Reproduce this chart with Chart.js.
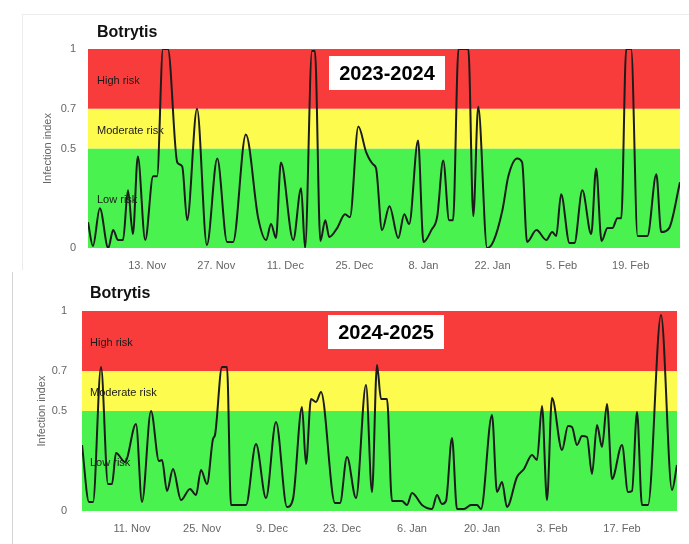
<!DOCTYPE html>
<html>
<head>
<meta charset="utf-8">
<script src="https://cdn.jsdelivr.net/npm/chart.js@4.4.1/dist/chart.umd.min.js"></script>
<style>
  html, body { margin: 0; padding: 0; background: #fff; }
  #page { position: relative; width: 689px; height: 544px; overflow: hidden; }
  canvas { position: absolute; left: 0; }
  #c1 { top: 0; }
  #c2 { top: 272px; }
  .edge { position: absolute; background: #ececec; }
</style>
</head>
<body>
<div id="page">
  <div class="edge" style="left:22px;top:14px;width:667px;height:1px;"></div>
  <div class="edge" style="left:22px;top:14px;width:1px;height:256px;"></div>
  <div class="edge" style="left:12px;top:272px;width:1px;height:272px;background:#d4d4d4;"></div>
  <canvas id="c1" width="689" height="272"></canvas>
  <canvas id="c2" width="689" height="272"></canvas>
</div>
<script>
// days counted from 1 Nov
const days2324 = [0, 1.0, 2.4, 4.1, 5.1, 6.1, 7.1, 8.1, 9.1, 10.1, 11.6, 13.2, 14.0, 15.2, 16.2, 18.1, 19.1, 20.1, 22.1, 24.1,
  26.2, 28.2, 29.4, 32.0, 34.5, 36.1, 37.1, 38.1, 39.1, 41.6, 43.2, 44.0, 45.4, 46.0, 47.1, 48.1, 48.9, 50.5, 52.1, 53.1,
  54.8, 56.4, 57.8, 58.4, 59.6, 61.1, 62.9, 64.1, 65.1, 66.9, 68.0, 69.6, 70.8, 72.0, 73.2, 74.0, 75.1, 77.1, 78.1, 79.1,
  80.9, 82.2, 84.0, 85.2, 87.0, 88.0, 89.0, 90.9, 92.9, 94.1, 94.9, 95.9, 97.6, 98.6, 100.2, 102.0, 103.0, 104.1, 105.3, 106.3,
  107.3, 108.1, 109.1, 110.1, 111.4, 113.4, 115.2, 116.2, 117.8, 120.0];
const index2324 = [0.13, 0.01, 0.20, 0.0, 0.09, 0.04, 0.04, 0.29, 0.07, 0.46, 0.04, 0.36, 0.36, 1.0, 1.0, 0.43, 0.41, 0.14, 0.70, 0.015,
  0.45, 0.03, 0.03, 0.57, 0.15, 0.04, 0.12, 0.05, 0.43, 0.04, 0.30, 0.0, 0.99, 0.99, 0.035, 0.14, 0.055, 0.10, 0.17, 0.155,
  0.61, 0.48, 0.42, 0.40, 0.09, 0.21, 0.05, 0.17, 0.12, 0.54, 0.03, 0.09, 0.16, 0.44, 0.14, 0.14, 1.0, 1.0, 0.16, 0.71,
  0.0, 0.035, 0.19, 0.36, 0.45, 0.43, 0.03, 0.09, 0.04, 0.08, 0.06, 0.27, 0.025, 0.025, 0.29, 0.07, 0.40, 0.035, 0.10, 0.10,
  0.15, 0.15, 1.0, 1.0, 0.06, 0.06, 0.37, 0.08, 0.10, 0.33];

const days2425 = [0, 1.4, 2.2, 3.8, 5.2, 6.0, 6.8, 8.6, 10.8, 12.0, 13.8, 15.4, 16.0, 17.0, 18.2, 19.8, 21.6, 22.8, 23.8, 25.0,
  26.2, 26.6, 28.0, 29.0, 29.8, 32.8, 34.8, 36.8, 38.8, 41.0, 42.2, 44.0, 44.8, 45.8, 46.8, 47.8, 50.6, 51.6, 53.0, 54.8,
  56.8, 58.0, 59.0, 59.8, 61.0, 62.0, 64.0, 65.0, 66.0, 68.0, 70.0, 71.0, 72.0, 72.8, 74.0, 75.0, 76.4, 77.8, 79.0, 79.8,
  82.0, 83.0, 84.0, 85.0, 87.0, 88.4, 90.0, 91.0, 92.0, 93.0, 94.0, 96.0, 97.2, 98.0, 99.0, 100.0, 101.0, 102.0, 103.0, 104.0,
  105.0, 106.0, 108.0, 109.2, 110.0, 111.0, 112.0, 113.2, 115.8, 118.0, 119.0];
const index2425 = [0.33, 0.045, 0.045, 0.72, 0.135, 0.135, 0.29, 0.245, 0.435, 0.045, 0.50, 0.25, 0.255, 0.10, 0.21, 0.055, 0.11, 0.08, 0.205, 0.135,
  0.36, 0.38, 0.72, 0.72, 0.03, 0.03, 0.335, 0.065, 0.445, 0.02, 0.06, 0.52, 0.235, 0.56, 0.545, 0.595, 0.04, 0.04, 0.27, 0.065,
  0.63, 0.095, 0.73, 0.56, 0.56, 0.05, 0.05, 0.03, 0.09, 0.03, 0.01, 0.08, 0.035, 0.05, 0.365, 0.01, 0.01, 0.03, 0.03, 0.01,
  0.48, 0.095, 0.145, 0.02, 0.17, 0.21, 0.28, 0.255, 0.525, 0.055, 0.565, 0.305, 0.425, 0.42, 0.33, 0.375, 0.37, 0.185, 0.43, 0.32,
  0.535, 0.16, 0.33, 0.095, 0.10, 0.495, 0.03, 0.03, 0.98, 0.105, 0.23];

const tickDays2324 = [12, 26, 40, 54, 68, 82, 96, 110];
const tickLabels2324 = ['13. Nov', '27. Nov', '11. Dec', '25. Dec', '8. Jan', '22. Jan', '5. Feb', '19. Feb'];
const tickDays2425 = [10, 24, 38, 52, 66, 80, 94, 108];
const tickLabels2425 = ['11. Nov', '25. Nov', '9. Dec', '23. Dec', '6. Jan', '20. Jan', '3. Feb', '17. Feb'];

const yTicks = [0, 0.5, 0.7, 1];
const bandEdges = [0, 0.5, 0.7, 1];
const bandNames = ['Low risk', 'Moderate risk', 'High risk'];
const bandColors = ['#4af250', '#fcfb4e', '#f83b3b'];

const FONT = '"Liberation Sans", Arial, sans-serif';

const riskBands = {
  id: 'riskBands',
  beforeDatasetsDraw(chart, args, opts) {
    const { ctx, chartArea: a, scales: { y } } = chart;
    ctx.save();
    for (let i = 0; i < bandNames.length; i++) {
      const top = y.getPixelForValue(bandEdges[i + 1]);
      const bot = y.getPixelForValue(bandEdges[i]);
      ctx.fillStyle = bandColors[i];
      ctx.fillRect(a.left, top, a.right - a.left, bot - top);
      ctx.fillStyle = '#1a1a1a';
      ctx.font = '11px ' + FONT;
      ctx.textBaseline = 'middle';
      ctx.fillText(bandNames[i], a.left + opts.labelDx, (top + bot) / 2 + 2);
    }
    ctx.fillStyle = '#111';
    ctx.font = 'bold 16px ' + FONT;
    ctx.fillText('Botrytis', a.left + opts.titleDx, a.top - opts.titleDy);
    ctx.restore();
  },
  afterDraw(chart, args, opts) {
    const { ctx, chartArea: a } = chart;
    const bx = a.left + opts.boxDx, by = a.top + opts.boxDy;
    ctx.save();
    ctx.fillStyle = '#fff';
    ctx.fillRect(bx, by, 116, 34);
    ctx.fillStyle = '#000';
    ctx.font = 'bold 20px ' + FONT;
    ctx.textAlign = 'center';
    ctx.textBaseline = 'middle';
    ctx.fillText(opts.season, bx + 58, by + 18);
    ctx.restore();
  }
};

function makeChart(id, days, vals, tickDays, tickLabels, xMax, g) {
  const ctx = document.getElementById(id).getContext('2d');
  return new Chart(ctx, {
    type: 'line',
    data: {
      datasets: [{
        data: days.map((d, i) => ({ x: d, y: vals[i] })),
        borderColor: '#1c1c1c',
        borderWidth: 2,
        pointRadius: 0,
        fill: false,
        cubicInterpolationMode: 'monotone'
      }]
    },
    options: {
      responsive: false,
      animation: false,
      layout: { padding: { left: 0, right: g.right, top: g.top, bottom: 0 } },
      scales: {
        x: {
          type: 'linear',
          min: 0,
          max: xMax,
          grid: { display: false, drawTicks: false },
          border: { display: false },
          afterBuildTicks: s => { s.ticks = tickDays.map(v => ({ value: v })); },
          afterFit: s => { s.height = g.xHeight; },
          ticks: {
            padding: 11,
            maxRotation: 0,
            color: '#666',
            font: { size: 11, family: FONT },
            callback: v => tickLabels[tickDays.indexOf(v)]
          }
        },
        y: {
          min: 0,
          max: 1,
          grid: { display: false, drawTicks: false },
          border: { display: false },
          afterBuildTicks: s => { s.ticks = yTicks.map(v => ({ value: v })); },
          afterFit: s => { s.width = g.yWidth; },
          ticks: {
            padding: g.yPad,
            color: '#666',
            font: { size: 11, family: FONT },
            callback: v => String(v)
          },
          title: {
            display: true,
            text: 'Infection index',
            color: '#666',
            font: { size: 11, family: FONT },
            padding: { top: g.titlePad, bottom: 0 }
          }
        }
      },
      plugins: {
        legend: { display: false },
        tooltip: { enabled: false },
        riskBands: g.bands
      }
    },
    plugins: [riskBands]
  });
}

makeChart('c1', days2324, index2324, tickDays2324, tickLabels2324, 120, {
  right: 9, top: 49, xHeight: 24, yWidth: 88, yPad: 12, titlePad: 41,
  bands: { labelDx: 9, titleDx: 9, titleDy: 16, boxDx: 241, boxDy: 7, season: '2023-2024' }
});
makeChart('c2', days2425, index2425, tickDays2425, tickLabels2425, 119, {
  right: 12, top: 39, xHeight: 33, yWidth: 82, yPad: 15, titlePad: 35,
  bands: { labelDx: 8, titleDx: 8, titleDy: 17, boxDx: 246, boxDy: 4, season: '2024-2025' }
});
</script>
</body>
</html>
